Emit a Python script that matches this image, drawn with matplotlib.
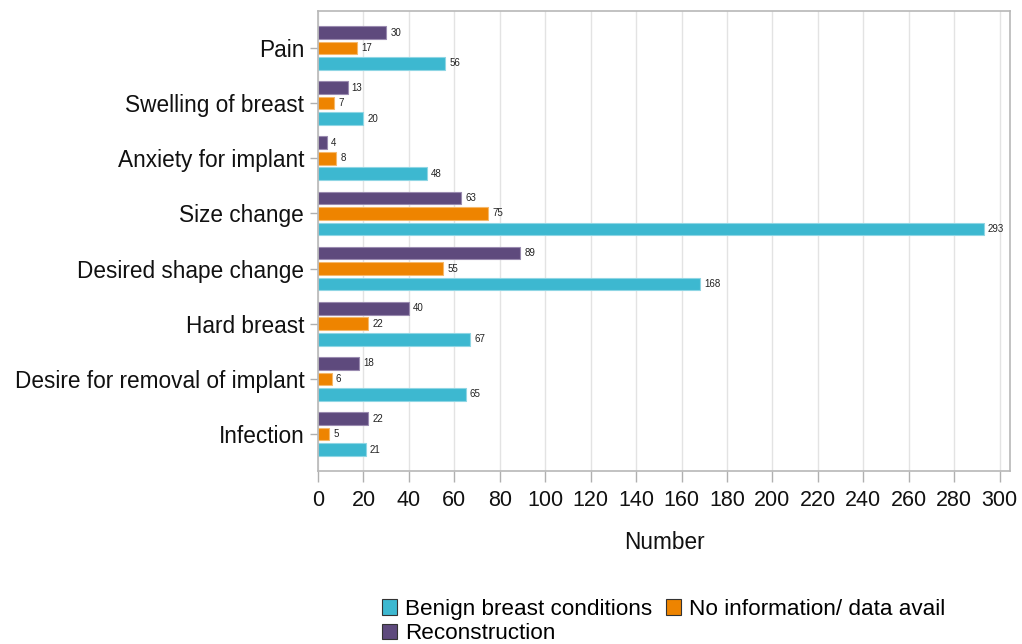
import matplotlib
matplotlib.use("Agg")
import matplotlib.pyplot as plt
import numpy as np
from matplotlib.patches import Patch

plt.rcParams['font.family'] = ['Liberation Sans', 'DejaVu Sans']

categories = ["Pain", "Swelling of breast", "Anxiety for implant", "Size change",
              "Desired shape change", "Hard breast", "Desire for removal of implant", "Infection"]
reconstruction = [30, 13, 4, 63, 89, 40, 18, 22]
no_info = [17, 7, 8, 75, 55, 22, 6, 5]
benign = [56, 20, 48, 293, 168, 67, 65, 21]
series_names = ["Benign breast conditions", "No information/ data avail", "Reconstruction"]
xticks = list(range(0, 301, 20))

c_benign = "#3db8d0"
c_noinfo = "#ee8400"
c_recon = "#5e4a7d"
e_benign = "#8fd6e4"
e_noinfo = "#f6b86a"
e_recon = "#9a8bb0"

fig = plt.figure(figsize=(10.22, 6.44), dpi=100)
ax = fig.add_axes([0.3112, 0.2686, 0.9883 - 0.3112, 0.9829 - 0.2686])

y = np.arange(len(categories))
off = 0.28
h = 0.23
ax.set_axisbelow(True)
b_r = ax.barh(y - off, reconstruction, height=h, color=c_recon, edgecolor=e_recon, linewidth=0.8)
b_n = ax.barh(y, no_info, height=h, color=c_noinfo, edgecolor=e_noinfo, linewidth=0.8)
b_b = ax.barh(y + off, benign, height=h, color=c_benign, edgecolor=e_benign, linewidth=0.8)

for bars, vals in ((b_r, reconstruction), (b_n, no_info), (b_b, benign)):
    for rect, v in zip(bars, vals):
        ax.annotate(str(v), (rect.get_width(), rect.get_y() + rect.get_height() / 2),
                    xytext=(3, 0), textcoords="offset points", va="center", ha="left",
                    fontsize=7, color="#222222")

ax.set_ylim(len(categories) - 1 + 0.67, -0.67)
ax.set_xlim(0, 304.6)
ax.set_yticks(y)
ax.set_yticklabels(categories, fontsize=16.3, color="#111111")
ax.set_xticks(xticks)
ax.set_xticklabels([str(t) for t in xticks], fontsize=15.5, color="#111111")
ax.tick_params(axis="x", length=8, width=1, color="#b0b0b0", pad=6)
ax.tick_params(axis="y", length=6, width=1, color="#b0b0b0", pad=4)
ax.xaxis.grid(True, color="#e3e3e3", linewidth=1)
for s in ax.spines.values():
    s.set_color("#b8b8b8")
    s.set_linewidth(1.2)

ax.set_xlabel("Number", fontsize=16.3, labelpad=14, color="#111111")

h_b = Patch(facecolor=c_benign, edgecolor="#333333", linewidth=0.8)
h_n = Patch(facecolor=c_noinfo, edgecolor="#333333", linewidth=0.8)
h_r = Patch(facecolor=c_recon, edgecolor="#333333", linewidth=0.8)
# column-major fill: gives row 1 = Benign, No info; row 2 = Reconstruction
fig.legend([h_b, h_r, h_n], [series_names[0], series_names[2], series_names[1]],
           loc="upper left", bbox_to_anchor=(382 / 1022, 1 - 599 / 644),
           ncol=2, frameon=False, fontsize=16.2, handlelength=0.68, handleheight=0.68,
           handletextpad=0.35, columnspacing=0.6, labelspacing=0.15, borderpad=0,
           borderaxespad=0)

fig.savefig("out.png", dpi=100)
